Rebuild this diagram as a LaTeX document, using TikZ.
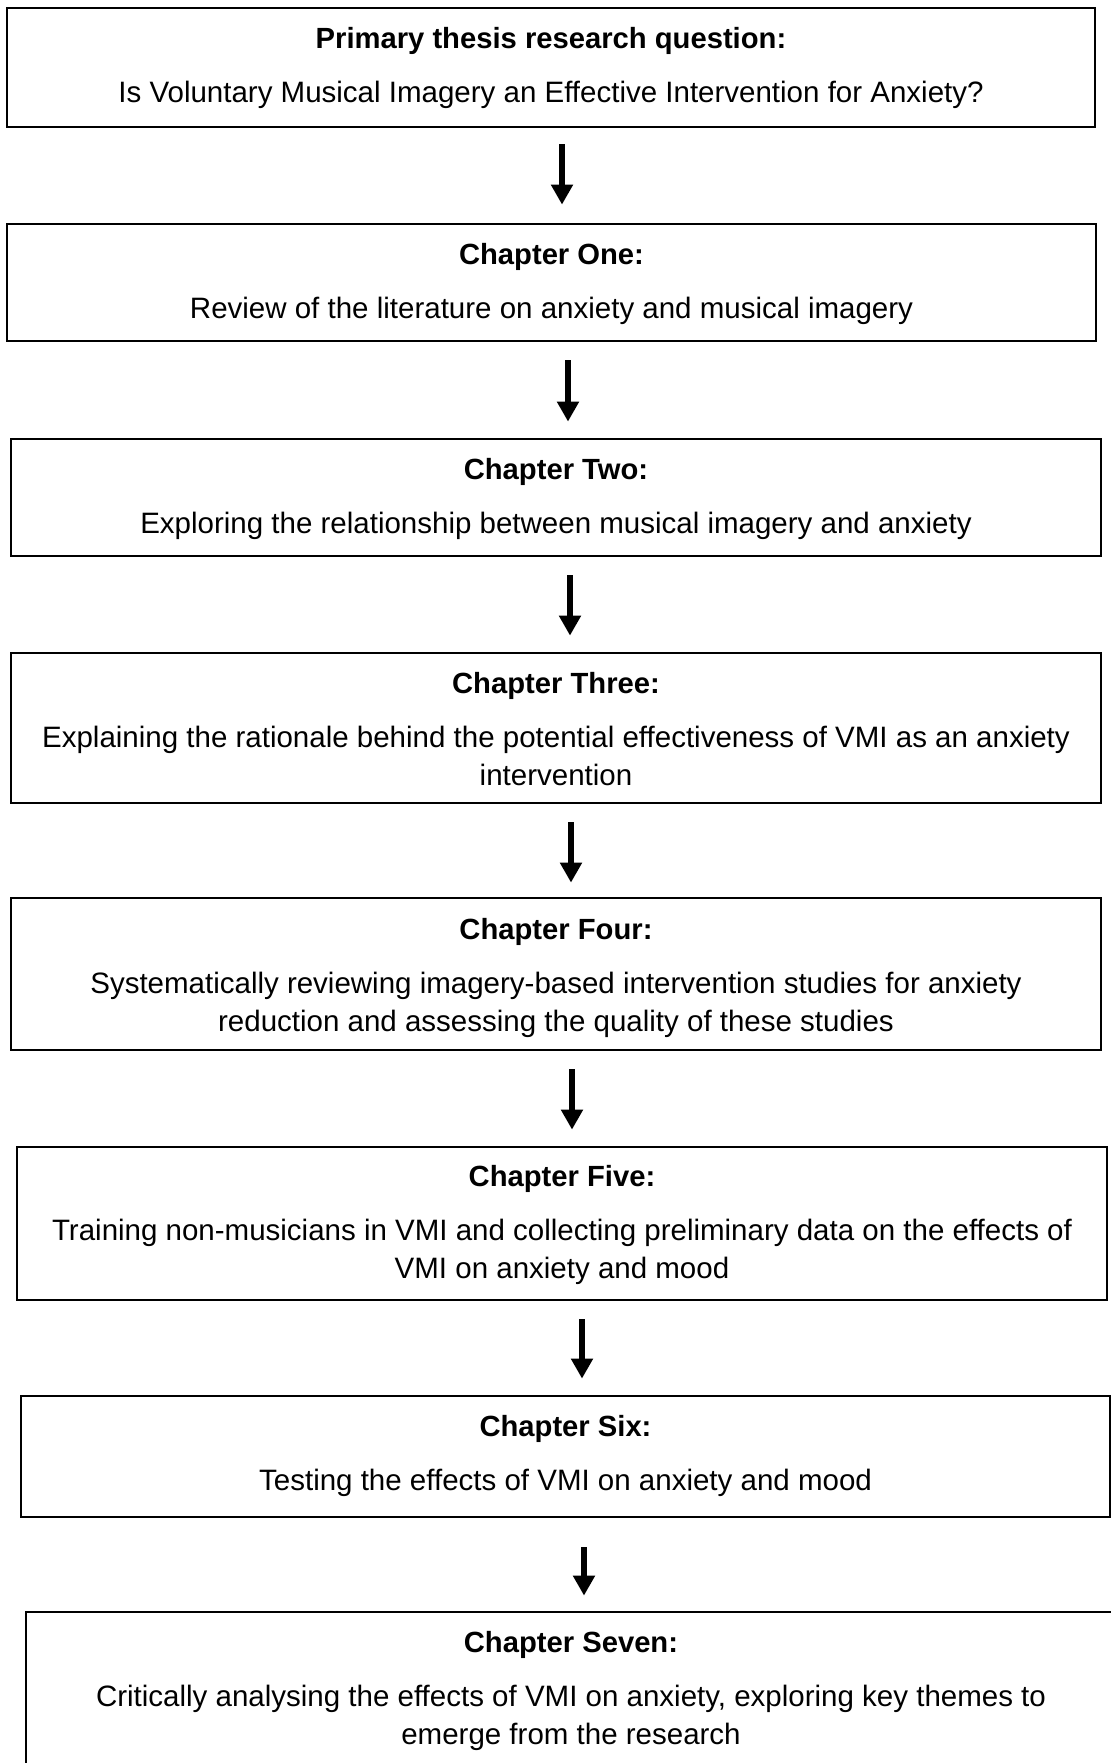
\documentclass[tikz,border=0pt]{standalone}
\usepackage{fontspec}
\setmainfont{Liberation Sans}
\usetikzlibrary{arrows.meta}
\begin{document}
\begin{tikzpicture}[x=0.5pt,y=-0.5pt,
  box/.style={draw=black,line width=1.4pt,rectangle,inner sep=0pt,minimum width=545pt},
  ttl/.style={anchor=base,inner sep=0pt,font=\fontsize{14.6pt}{19pt}\selectfont\bfseries},
  body/.style={anchor=base,inner sep=0pt,align=center,font=\fontsize{14.75pt}{19pt}\selectfont},
  arr/.style={-{Triangle[length=10pt,width=10.5pt]},line width=3pt,shorten <=9pt,shorten >=8pt}]
\useasboundingbox (0,0) rectangle (1111,1763);
% boxes
\node[box,minimum width=544pt,minimum height=59.5pt] (b1) at (551,67.5) {};
\node[box,minimum width=544.5pt,minimum height=58.5pt] (b2) at (551.5,282.5) {};
\node[box,minimum height=58.5pt] (b3) at (556,497.5) {};
\node[box,minimum height=75pt] (b4) at (556,728) {};
\node[box,minimum height=76pt] (b5) at (556,974) {};
\node[box,minimum height=76.5pt] (b6) at (562,1223.5) {};
\node[box,minimum width=544.5pt,minimum height=60.5pt] (b7) at (565.5,1456.5) {};
\node[box,minimum height=95pt] (b8) at (571,1707) {};
% texts (multi-line nodes: base is the last line)
\node[ttl] (t1) at (551,48) {Primary thesis research question:};
\node[body] (d1) at (551,102) {Is Voluntary Musical Imagery an Effective Intervention for Anxiety?};
\node[ttl] (t2) at (551.5,264) {Chapter One:};
\node[body] (d2) at (551.5,318) {Review of the literature on anxiety and musical imagery};
\node[ttl] (t3) at (556,479) {Chapter Two:};
\node[body] (d3) at (556,533) {Exploring the relationship between musical imagery and anxiety};
\node[ttl] (t4) at (556,693) {Chapter Three:};
\node[body] (d4) at (556,785) {Explaining the rationale behind the potential effectiveness of VMI as an anxiety\\intervention};
\node[ttl] (t5) at (556,939) {Chapter Four:};
\node[body] (d5) at (556,1031) {Systematically reviewing imagery-based intervention studies for anxiety\\reduction and assessing the quality of these studies};
\node[ttl] (t6) at (562,1186) {Chapter Five:};
\node[body] (d6) at (562,1278) {Training non-musicians in VMI and collecting preliminary data on the effects of\\VMI on anxiety and mood};
\node[ttl] (t7) at (565.5,1436) {Chapter Six:};
\node[body] (d7) at (565.5,1490) {Testing the effects of VMI on anxiety and mood};
\node[ttl] (t8) at (571,1652) {Chapter Seven:};
\node[body] (d8) at (571,1744) {Critically analysing the effects of VMI on anxiety, exploring key themes to\\emerge from the research};
% arrows
\draw[arr,shorten <=8pt,shorten >=9pt] (b1.south -| 562,0) -- (b2.north -| 562,0);
\draw[arr] (b2.south -| 568,0) -- (b3.north -| 568,0);
\draw[arr] (b3.south -| 570,0) -- (b4.north -| 570,0);
\draw[arr,shorten >=7pt] (b4.south -| 571,0) -- (b5.north -| 571,0);
\draw[arr] (b5.south -| 572,0) -- (b6.north -| 572,0);
\draw[arr] (b6.south -| 582,0) -- (b7.north -| 582,0);
\draw[arr,shorten <=14.5pt,shorten >=7.5pt] (b7.south -| 584,0) -- (b8.north -| 584,0);
\end{tikzpicture}
\end{document}
